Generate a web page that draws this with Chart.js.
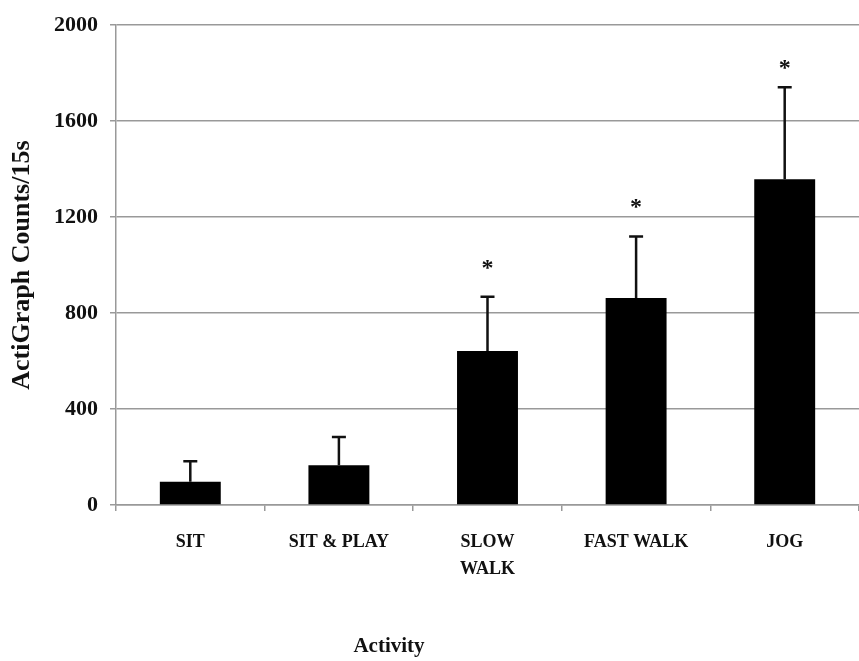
<!DOCTYPE html>
<html>
<head>
<meta charset="utf-8">
<script src="https://cdn.jsdelivr.net/npm/chart.js@4"></script>
<style>
  html, body { margin: 0; padding: 0; background: #fff; }
  #wrap { width: 859px; height: 661px; }
</style>
</head>
<body>
<div id="wrap"><canvas id="activity-chart" width="859" height="661"></canvas></div>
<script>
var activityLabels = ['SIT', 'SIT & PLAY', ['SLOW', 'WALK'], 'FAST WALK', 'JOG'];
var meanCounts = [97, 166, 642, 863, 1358];
var errorTop = [182, 283, 868, 1119, 1741];
var starAt = [null, null, 1005, 1260, 1838];
var yTicks = [0, 400, 800, 1200, 1600, 2000];

Chart.defaults.font.family = '"Liberation Serif", "Times New Roman", serif';
Chart.defaults.font.weight = 'bold';
Chart.defaults.color = '#111';

// error bars (upward only) + significance stars
var extrasPlugin = {
	id: 'extras',
	afterDatasetsDraw: function(chart) {
		var ctx = chart.ctx;
		var meta = chart.getDatasetMeta(0);
		var y = chart.scales.y;
		ctx.save();
		ctx.strokeStyle = '#111';
		ctx.lineWidth = 2.5;
		meta.data.forEach(function(bar, i) {
			var yTop = y.getPixelForValue(errorTop[i]);
			ctx.beginPath();
			ctx.moveTo(bar.x, bar.y);
			ctx.lineTo(bar.x, yTop);
			ctx.moveTo(bar.x - 7, yTop);
			ctx.lineTo(bar.x + 7, yTop);
			ctx.stroke();
			if (starAt[i] != null) {
				ctx.fillStyle = '#111';
				ctx.font = 'bold 24px "Liberation Serif"';
				ctx.textAlign = 'center';
				ctx.textBaseline = 'middle';
				ctx.fillText('*', bar.x, y.getPixelForValue(starAt[i]) + 5);
			}
		});
		ctx.fillStyle = '#111';
		ctx.font = 'bold 21px "Liberation Serif"';
		ctx.textAlign = 'center';
		ctx.textBaseline = 'middle';
		ctx.fillText('Activity', 389, 647);
		ctx.restore();
	}
};

const ctx = document.getElementById('activity-chart').getContext('2d');
const myChart = new Chart(ctx, {
	type: 'bar',
	data: {
		labels: activityLabels,
		datasets: [
			{
				label: 'ActiGraph Counts/15s',
				data: meanCounts,
				backgroundColor: '#000',
				borderWidth: 0,
				categoryPercentage: 1,
				barPercentage: 0.41
			}
		]
	},
	options: {
		responsive: false,
		animation: false,
		layout: { padding: { top: 23, right: 0, left: 0, bottom: 0 } },
		plugins: {
			legend: { display: false },
			tooltip: { enabled: false }
		},
		scales: {
			x: {
				grid: {
					drawOnChartArea: false,
					drawTicks: true,
					offset: true,
					tickLength: 6,
					color: '#999',
					lineWidth: 1.5
				},
				border: { color: '#999', width: 1.5 },
				ticks: {
					font: { size: 18, weight: 'bold', lineHeight: 1.5 },
					padding: 18,
					maxRotation: 0,
					autoSkip: false
				},
				afterFit: function(scale) { scale.height = 156; }
			},
			y: {
				min: 0,
				max: 2000,
				afterBuildTicks: function(scale) {
					scale.ticks = yTicks.map(function(v) { return { value: v }; });
				},
				grid: {
					color: '#999',
					lineWidth: 1.5,
					tickLength: 6
				},
				border: { color: '#999', width: 1.5 },
				ticks: {
					font: { size: 22, weight: 'bold' },
					padding: 12,
					callback: function(v) { return String(v); }
				},
				title: {
					display: true,
					text: 'ActiGraph Counts/15s',
					font: { size: 26, weight: 'bold' },
					padding: { top: 7, bottom: 0 }
				},
				afterFit: function(scale) { scale.width = 116; }
			}
		}
	},
	plugins: [extrasPlugin]
});
</script>
</body>
</html>
